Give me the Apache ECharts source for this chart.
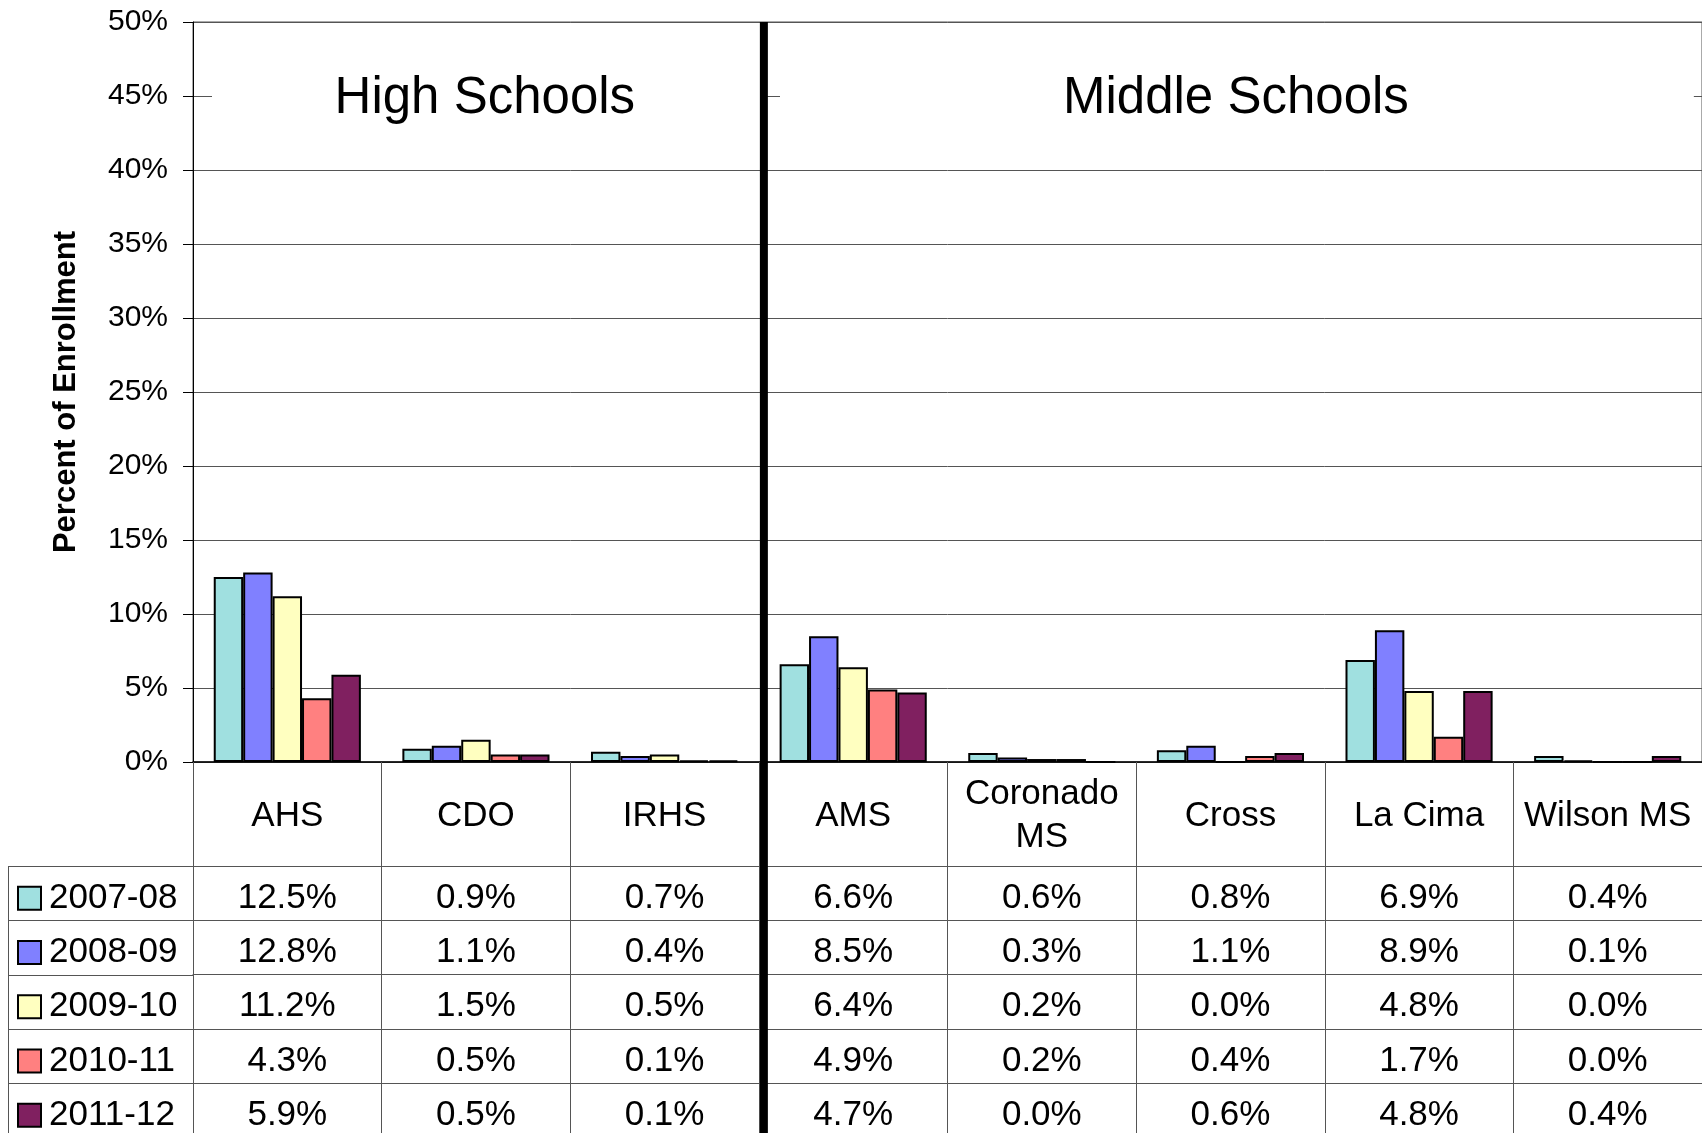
<!DOCTYPE html>
<html>
<head>
<meta charset="utf-8">
<script src="https://cdn.jsdelivr.net/npm/echarts@6/dist/echarts.min.js"></script>
<style>
html,body{margin:0;padding:0;background:#fff;}
#c{width:1702px;height:1133px;}
</style>
</head>
<body>
<div id="c"></div>
<script>
// ---- data ----
const categories = ['AHS', 'CDO', 'IRHS', 'AMS', 'Coronado\nMS', 'Cross', 'La Cima', 'Wilson MS'];
const seriesNames = ['2007-08', '2008-09', '2009-10', '2010-11', '2011-12'];
const v2007_08 = [12.5, 0.9, 0.7, 6.6, 0.6, 0.8, 6.9, 0.4];
const v2008_09 = [12.8, 1.1, 0.4, 8.5, 0.3, 1.1, 8.9, 0.1];
const v2009_10 = [11.2, 1.5, 0.5, 6.4, 0.2, 0.0, 4.8, 0.0];
const v2010_11 = [4.3, 0.5, 0.1, 4.9, 0.2, 0.4, 1.7, 0.0];
const v2011_12 = [5.9, 0.5, 0.1, 4.7, 0.0, 0.6, 4.8, 0.4];
const yMin = 0, yMax = 50, yStep = 5;
const groupTitles = ['High Schools', 'Middle Schools'];
const yAxisTitle = 'Percent of Enrollment';

const seriesValues = [v2007_08, v2008_09, v2009_10, v2010_11, v2011_12];

// ---- style / layout ----
const colors = ['#A0E0E0', '#8080FF', '#FFFFC0', '#FF8080', '#802060'];
const FONT = '"Liberation Sans", Arial, sans-serif';
const W = 1702, H = 1133;
const GRID_LEFT = 193, GRID_TOP = 22, PLOT_BOTTOM = 762;
const HEADER_H = 104, ROW_H = 54.3;
const LINE_COLOR = '#555';
const tableTop = PLOT_BOTTOM + HEADER_H;

const chart = echarts.init(document.getElementById('c'), null, {renderer: 'canvas'});

const xAxes = [{
  type: 'category',
  data: categories,
  position: 'bottom',
  gridIndex: 0,
  axisLine: {show: true, lineStyle: {color: '#000', width: 1.5}},
  axisTick: {show: true, interval: 0, length: HEADER_H, lineStyle: {color: LINE_COLOR, width: 1}},
  axisLabel: {interval: 0, margin: 54, verticalAlign: 'middle', fontSize: 35, lineHeight: 43,
              color: '#000', fontFamily: FONT},
  splitLine: {show: false}
}];
seriesValues.forEach(function (vals, i) {
  xAxes.push({
    type: 'category',
    data: categories,
    position: 'bottom',
    gridIndex: 0,
    offset: HEADER_H + ROW_H * i,
    axisLine: {show: true, lineStyle: {color: LINE_COLOR, width: 1}},
    axisTick: {show: true, interval: 0, length: ROW_H, lineStyle: {color: LINE_COLOR, width: 1}},
    axisLabel: {interval: 0, margin: 32, verticalAlign: 'middle', fontSize: 35, color: '#000',
                fontFamily: FONT,
                formatter: function (v, idx) { return vals[idx].toFixed(1) + '%'; }},
    splitLine: {show: false}
  });
});

const series = seriesValues.map(function (vals, i) {
  return {
    name: seriesNames[i],
    type: 'bar',
    xAxisIndex: 0,
    yAxisIndex: 0,
    data: vals,
    barGap: '0%',
    barCategoryGap: '22%',
    itemStyle: {color: colors[i], borderColor: '#000', borderWidth: 2},
    emphasis: {disabled: true},
    animation: false
  };
});

// one legend per table row so each key sits in its own row
const legends = seriesNames.map(function (name, i) {
  return {
    orient: 'vertical', left: 17, top: tableTop + 5 + ROW_H * i, padding: 0, itemGap: 0,
    itemWidth: 23, itemHeight: 23, icon: 'rect', selectedMode: false,
    itemStyle: {borderColor: '#000', borderWidth: 2},
    textStyle: {fontSize: 35, color: '#000', fontFamily: FONT, lineHeight: ROW_H, padding: [0, 0, 0, 3]},
    data: [name]
  };
});

chart.setOption({
  animation: false,
  backgroundColor: '#fff',
  textStyle: {fontFamily: FONT},
  title: [
    {text: groupTitles[0], left: 212, top: 69.5, padding: [4, 129, 4, 122.6],
     backgroundColor: '#fff',
     textStyle: {fontSize: 51, lineHeight: 51, fontWeight: 'normal', color: '#000', fontFamily: FONT}},
    {text: groupTitles[1], left: 780, top: 69.5, padding: [4, 285, 4, 283],
     backgroundColor: '#fff',
     textStyle: {fontSize: 51, lineHeight: 51, fontWeight: 'normal', color: '#000', fontFamily: FONT}}
  ],
  legend: legends,
  grid: {left: GRID_LEFT, right: 0, top: GRID_TOP, bottom: H - PLOT_BOTTOM,
         show: true, borderColor: LINE_COLOR, borderWidth: 1, backgroundColor: 'transparent',
         containLabel: false, outerBoundsMode: 'none'},
  xAxis: xAxes,
  yAxis: {
    type: 'value', min: yMin, max: yMax, interval: yStep,
    axisLine: {show: true, lineStyle: {color: '#000', width: 1}},
    axisTick: {show: true, length: 10, lineStyle: {color: '#000'}},
    axisLabel: {formatter: '{value}%', fontSize: 30, color: '#000', margin: 25, fontFamily: FONT},
    splitLine: {show: true, lineStyle: {color: LINE_COLOR, width: 1}},
    name: yAxisTitle, nameLocation: 'middle', nameGap: 111,
    nameTextStyle: {fontSize: 31, fontWeight: 'bold', color: '#000', fontFamily: FONT}
  },
  series: series
});

// decorations derived from the axis scale
const xA = chart.convertToPixel({xAxisIndex: 0}, categories[2]);
const xB = chart.convertToPixel({xAxisIndex: 0}, categories[3]);
const divX = (xA + xB) / 2 + 5;
const graphics = [{
  type: 'rect', z: 100,
  shape: {x: divX - 4, y: GRID_TOP, width: 8, height: H - GRID_TOP},
  style: {fill: '#000'}
}];
for (let k = 0; k <= seriesNames.length; k++) {
  const y = Math.round(tableTop + ROW_H * k) + 0.5;
  graphics.push({type: 'line', z: 50,
    shape: {x1: 8, y1: y, x2: GRID_LEFT, y2: y},
    style: {stroke: LINE_COLOR, lineWidth: 1}});
}
graphics.push({type: 'line', z: 50,
  shape: {x1: 8.5, y1: tableTop, x2: 8.5, y2: H},
  style: {stroke: LINE_COLOR, lineWidth: 1}});
chart.setOption({graphic: graphics});
</script>
</body>
</html>
